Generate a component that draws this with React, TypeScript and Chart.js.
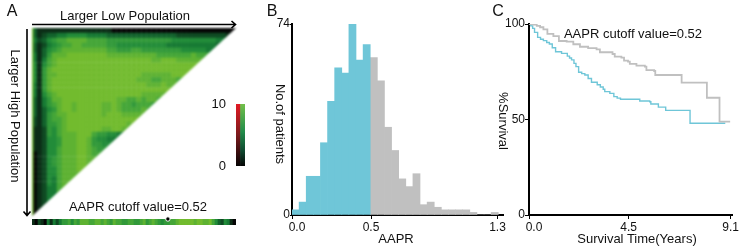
import React, { useEffect, useRef } from "react";
import { Chart, registerables } from "chart.js";

Chart.register(...registerables);

const FONT = "'Liberation Sans', Arial, sans-serif";

// Panel A: triangular heat map, one string per row, digit = colour level
const heatRows: string[] = [
  "3111111111 1111110000 0000000000 0000000000 0",
  "3123344555 5444433333 3333333332 2222222221 1",
  "4235677888 8777766666 6666666655 5555555443 2",
  "3124567788 7777766555 5555555444 4444444333 2",
  "3135678888 8888877666 7766666666 55555443",
  "4136888999 9999988888 8888877777 7787776",
  "4147899999 9999999999 9999889998 888888",
  "5157899999 9999999999 9999999999 99999",
  "5168999999 9999999999 9999999999 9999",
  "5168899999 9999999999 9988888899 999",
  "5168999999 9999999999 9888778887 88",
  "4168999999 9999999999 9998889889 8",
  "4168999999 9999999999 9999999999",
  "4157899999 9999999999 998888888",
  "3146889999 9999999887 78788778",
  "3146789989 9999889877 6777677",
  "3135689989 9999889877 778777",
  "3136788999 9999899988 88888",
  "2136778999 9999999999 9999",
  "2136678999 9999999998 998",
  "1126578999 9999889988 88",
  "1126578889 9976655445 5",
  "1125568889 9865544333",
  "1125568889 986655544",
  "1125578889 98766676",
  "0125578889 9877787",
  "0125678889 988888",
  "0125678889 98988",
  "0125578889 9888",
  "0125578888 988",
  "0125478888 88",
  "0125478888 8",
  "0124478888",
  "012447888",
  "01245778",
  "0124577",
  "013457",
  "01346",
];
const heatCols = 41;
const heatLevels = ["#050505", "#0c2d17", "#0f4a23", "#12622c", "#177a34", "#228c39", "#32993a", "#45a638", "#5eb232", "#72bb2e"];
const stripCells = "1021041424 6675768887 7887876877 6677667867 8765667789 9999899889 75325410";
const cutoffCell = 45.3;

// Panel B: histogram
const blueCenters = [0.0225, 0.0675, 0.1125, 0.1575, 0.2025, 0.2475, 0.2925, 0.3375, 0.3825, 0.4275, 0.4725];
const blueCounts = [2, 5, 15, 15, 28, 44, 57, 55, 74, 60, 66];
const grayCenters = [0.5175, 0.5625, 0.6075, 0.6525, 0.6975, 0.7425, 0.7875, 0.8325, 0.8775, 0.9225, 0.9675, 1.0125, 1.0575, 1.1025, 1.1475, 1.1925, 1.2375, 1.2825];
const grayCounts = [61, 52, 34, 25, 14, 11, 16, 4, 5, 3, 2, 2, 2, 2, 1, 0, 0, 1];
const histXTicks = [0, 0.5, 1.3];
const histXLabels = ["\u00a0\u00a0\u00a00.0", "0.5", "1.3"];
const histYTicks = [0, 74];

// Panel C: survival curves
const blueTimes = [0, 0.08, 0.165, 0.25, 0.39, 0.52, 0.65, 0.8, 0.92, 1.05, 1.2, 1.47, 1.73, 1.83, 1.92, 2.03, 2.12, 2.24, 2.38, 2.52, 2.67, 2.82, 3.08, 3.22, 3.35, 3.42, 3.65, 3.83, 3.98, 4.13, 4.92, 5.0, 5.45, 5.5, 5.84, 6.17, 7.27, 8.86];
const blueSurvival = [100, 99, 97.7, 95.6, 93, 92, 91.3, 90.3, 89.5, 87.6, 85.5, 84.6, 83.2, 82.2, 81.2, 79.4, 77.7, 74.7, 74, 73.3, 71.5, 69.5, 68.2, 67, 65.8, 64.6, 63.7, 62, 61.2, 60.6, 60.6, 59.7, 59.3, 58.1, 56.5, 54.8, 48, 48];
const grayTimes = [0, 0.2, 0.35, 0.5, 0.65, 0.83, 1.1, 1.35, 1.7, 2.0, 2.3, 2.67, 3.05, 3.2, 3.77, 3.87, 4.17, 4.29, 4.47, 4.55, 4.85, 5.23, 5.3, 5.65, 5.7, 6.89, 8.03, 8.6, 9.08];
const graySurvival = [100, 99.7, 99, 98.3, 97.2, 94.8, 93.7, 91.1, 90.8, 89.4, 88.1, 87.4, 86.7, 85.2, 84.3, 82.9, 82.4, 80.8, 80.3, 79.1, 78.2, 77.7, 75.9, 75.4, 73.3, 69.3, 61.4, 48.9, 48.9];
const survXTicks = [0, 4.5, 9.1];
const survXLabels = ["\u00a0\u00a0\u00a00.0", "4.5", "9.1"];
const survYTicks = [0, 50, 100];

const BLUE = "#6fc6d8";
const GRAY = "#c0c0c0";

const tickFont = { family: FONT, size: 12 };

const clean = (s: string) => s.replace(/ /g, "");

const triangleClip = {
  id: "triangleClip",
  beforeDatasetsDraw(chart: any) {
    const { ctx, chartArea: a } = chart;
    ctx.save();
    ctx.beginPath();
    ctx.moveTo(a.left, a.top);
    ctx.lineTo(a.right, a.top);
    ctx.lineTo(a.left, a.bottom);
    ctx.closePath();
    ctx.clip();
  },
  afterDatasetsDraw(chart: any) {
    chart.ctx.restore();
  },
};

const axisCommon = {
  offset: false,
  border: { color: "#000", width: 2 },
  grid: { offset: false, drawOnChartArea: false, drawTicks: true, tickLength: 4, color: "#000", lineWidth: 1 },
};

function fixedTicks(values: number[]) {
  return (s: any) => {
    s.ticks = values.map((value) => ({ value }));
  };
}

type TextProps = { x: number; y: number; size?: number; rot?: boolean; children: string };
function Label({ x, y, size = 13, rot, children }: TextProps) {
  return (
    <div
      style={{
        position: "absolute",
        left: x,
        top: y,
        font: `${size}px ${FONT}`,
        color: "#111",
        whiteSpace: "nowrap",
        lineHeight: 1,
        transform: `translate(-50%,-50%)${rot ? " rotate(90deg)" : ""}`,
      }}
    >
      {children}
    </div>
  );
}

export default function App() {
  const heatRef = useRef<HTMLCanvasElement>(null);
  const stripRef = useRef<HTMLCanvasElement>(null);
  const barRef = useRef<HTMLCanvasElement>(null);
  const histRef = useRef<HTMLCanvasElement>(null);
  const survRef = useRef<HTMLCanvasElement>(null);

  useEffect(() => {
    const rows = heatRows.map(clean);
    const points: { x: number; y: number }[] = [];
    const colors: string[] = [];
    rows.forEach((row, r) => {
      row.split("").forEach((d, c) => {
        points.push({ x: c + 0.5, y: r + 0.5 });
        colors.push(heatLevels[Number(d)]);
      });
    });

    const heat = new Chart(heatRef.current!, {
      type: "scatter",
      data: {
        datasets: [
          {
            data: points,
            pointStyle: "rect",
            pointRadius: 3.8,
            pointBorderWidth: 0,
            pointBackgroundColor: colors,
            order: 1,
          } as any,
          {
            type: "line",
            data: [
              { x: 0, y: 0 },
              { x: 0, y: rows.length },
            ],
            borderColor: heatLevels[9],
            borderWidth: 3,
            pointRadius: 0,
            clip: false,
            order: 0,
          } as any,
        ],
      },
      options: {
        animation: false,
        responsive: false,
        layout: { padding: 0, autoPadding: false },
        plugins: { legend: { display: false }, tooltip: { enabled: false } },
        scales: {
          x: { type: "linear", display: false, min: 0, max: heatCols, offset: false },
          y: { type: "linear", display: false, min: 0, max: rows.length, reverse: true },
        },
      },
      plugins: [triangleClip],
    });

    const stripValues = clean(stripCells).split("").map(Number);
    const strip = new Chart(stripRef.current!, {
      type: "bar",
      data: {
        datasets: [
          {
            type: "scatter",
            data: [{ x: cutoffCell, y: 1 }],
            pointRadius: 2.2,
            pointBackgroundColor: "#000",
            pointBorderColor: "#fff",
            pointBorderWidth: 1,
            clip: false,
            order: 0,
          } as any,
          {
            data: stripValues.map((_, i) => ({ x: i + 0.5, y: 1 })),
            backgroundColor: stripValues.map((v) => heatLevels[v]),
            barPercentage: 1,
            categoryPercentage: 1,
            borderWidth: 0,
            grouped: false,
            order: 1,
          } as any,
        ],
      },
      options: {
        animation: false,
        responsive: false,
        layout: { padding: { left: 7, right: 4, top: 7, bottom: 7 }, autoPadding: false },
        plugins: { legend: { display: false }, tooltip: { enabled: false } },
        scales: {
          x: { type: "linear", display: false, min: 0, max: stripValues.length, offset: false },
          y: { display: false, min: 0, max: 1 },
        },
      },
    });

    const barStops: [number, string][][] = [
      [[0, "#050303"], [0.5, "#7a1a1c"], [1, "#e21a24"]],
      [[0, "#050505"], [0.25, "#0f4a30"], [0.55, "#228c4a"], [1, "#72c04a"]],
    ];
    const colorBar = new Chart(barRef.current!, {
      type: "bar",
      data: {
        labels: ["low", "high"],
        datasets: [
          {
            data: [10, 10],
            barPercentage: 1,
            categoryPercentage: 1,
            borderWidth: 0,
            backgroundColor: (ctx: any) => {
              const a = ctx.chart.chartArea;
              if (!a) return "#000";
              const g = ctx.chart.ctx.createLinearGradient(0, a.bottom, 0, a.top);
              barStops[ctx.dataIndex ?? 0].forEach(([p, c]) => g.addColorStop(p, c));
              return g;
            },
          } as any,
        ],
      },
      options: {
        animation: false,
        responsive: false,
        layout: { padding: { top: 14, bottom: 14, right: 5 }, autoPadding: false },
        plugins: { legend: { display: false }, tooltip: { enabled: false } },
        scales: {
          x: { display: false },
          y: {
            min: 0,
            max: 10,
            afterBuildTicks: fixedTicks([0, 10]),
            afterFit: (s: any) => {
              s.width = 26;
            },
            border: { display: false },
            grid: { display: false },
            ticks: { color: "#111", font: { family: FONT, size: 13 }, padding: 2 },
          },
        },
      },
    });

    const hist = new Chart(histRef.current!, {
      type: "bar",
      data: {
        datasets: [
          {
            data: blueCenters.map((x, i) => ({ x, y: blueCounts[i] })),
            backgroundColor: BLUE,
            borderColor: BLUE,
            borderWidth: 0,
            barPercentage: 1,
            categoryPercentage: 1,
            grouped: false,
          } as any,
          {
            data: grayCenters.map((x, i) => ({ x, y: grayCounts[i] })),
            backgroundColor: GRAY,
            borderColor: GRAY,
            borderWidth: 0,
            barPercentage: 1,
            categoryPercentage: 1,
            grouped: false,
          } as any,
        ],
      },
      options: {
        animation: false,
        responsive: false,
        layout: { padding: { top: 24, right: 7, left: 0, bottom: 0 }, autoPadding: false },
        plugins: { legend: { display: false }, tooltip: { enabled: false } },
        scales: {
          x: {
            type: "linear",
            min: 0,
            max: 1.335,
            afterBuildTicks: fixedTicks(histXTicks),
            afterFit: (s: any) => {
              s.height = 33;
            },
            ...axisCommon,
            ticks: {
              color: "#111",
              font: tickFont,
              padding: 1,
              maxRotation: 0,
              autoSkip: false,
              callback: (v: any) => histXLabels[histXTicks.indexOf(Number(v))],
            },
          },
          y: {
            min: 0,
            max: 74,
            afterBuildTicks: fixedTicks(histYTicks),
            afterFit: (s: any) => {
              s.width = 42;
            },
            ...axisCommon,
            grid: { ...axisCommon.grid, tickLength: 2 },
            ticks: { color: "#111", font: tickFont, padding: 0 },
          },
        },
      },
    });

    const surv = new Chart(survRef.current!, {
      type: "scatter",
      data: {
        datasets: [
          {
            data: grayTimes.map((x, i) => ({ x, y: graySurvival[i] })),
            showLine: true,
            stepped: "before",
            borderColor: GRAY,
            borderWidth: 1.8,
            pointRadius: 0,
          } as any,
          {
            data: blueTimes.map((x, i) => ({ x, y: blueSurvival[i] })),
            showLine: true,
            stepped: "before",
            borderColor: BLUE,
            borderWidth: 1.4,
            pointRadius: 0,
          } as any,
        ],
      },
      options: {
        animation: false,
        responsive: false,
        layout: { padding: { top: 24, right: 7, left: 0, bottom: 0 }, autoPadding: false },
        plugins: { legend: { display: false }, tooltip: { enabled: false } },
        scales: {
          x: {
            type: "linear",
            min: 0,
            max: 9.19,
            afterBuildTicks: fixedTicks(survXTicks),
            afterFit: (s: any) => {
              s.height = 33;
            },
            ...axisCommon,
            ticks: {
              color: "#111",
              font: tickFont,
              padding: 1,
              maxRotation: 0,
              autoSkip: false,
              callback: (v: any) => survXLabels[survXTicks.indexOf(Number(v))],
            },
          },
          y: {
            min: 0,
            max: 100,
            afterBuildTicks: fixedTicks(survYTicks),
            afterFit: (s: any) => {
              s.width = 39;
            },
            ...axisCommon,
            ticks: { color: "#111", font: tickFont, padding: 0 },
          },
        },
      },
    });

    return () => {
      heat.destroy();
      strip.destroy();
      colorBar.destroy();
      hist.destroy();
      surv.destroy();
    };
  }, []);

  const abs = (left: number, top: number, extra: React.CSSProperties = {}): React.CSSProperties => ({
    position: "absolute",
    left,
    top,
    ...extra,
  });

  return (
    <div style={{ position: "fixed", left: 0, top: 0, width: 740, height: 248, background: "#fff", overflow: "hidden", filter: "blur(0.3px)" }}>
      <canvas ref={heatRef} width={204} height={188} style={abs(32, 28, { filter: "blur(0.9px)" })} />
      <canvas ref={stripRef} width={215} height={20} style={abs(25, 212)} />
      <canvas ref={barRef} width={40} height={90} style={abs(210, 90)} />
      <canvas ref={histRef} width={260} height={248} style={abs(250, 0)} />
      <canvas ref={survRef} width={250} height={248} style={abs(490, 0)} />

      <svg width={740} height={248} style={abs(0, 0)}>
        <path d="M32 24.5H235M231.5 21L235.5 24.5L231.5 28" fill="none" stroke="#000" strokeWidth={1.6} />
        <path d="M27 29V215M23.5 211.5L27 215.5L30.5 211.5" fill="none" stroke="#000" strokeWidth={1.6} />
      </svg>

      <Label x={12} y={11} size={16}>A</Label>
      <Label x={272} y={11} size={16}>B</Label>
      <Label x={498} y={11} size={16}>C</Label>

      <Label x={125} y={15}>Larger Low Population</Label>
      <Label x={15} y={116} rot>Larger High Population</Label>
      <Label x={138} y={206}>AAPR cutoff value=0.52</Label>

      <Label x={280} y={124} rot>No.of patients</Label>
      <Label x={396} y={238}>AAPR</Label>

      <Label x={633} y={33}>AAPR cutoff value=0.52</Label>
      <Label x={503} y={121} rot>%Survival</Label>
      <Label x={637} y={238}>Survival Time(Years)</Label>
    </div>
  );
}
